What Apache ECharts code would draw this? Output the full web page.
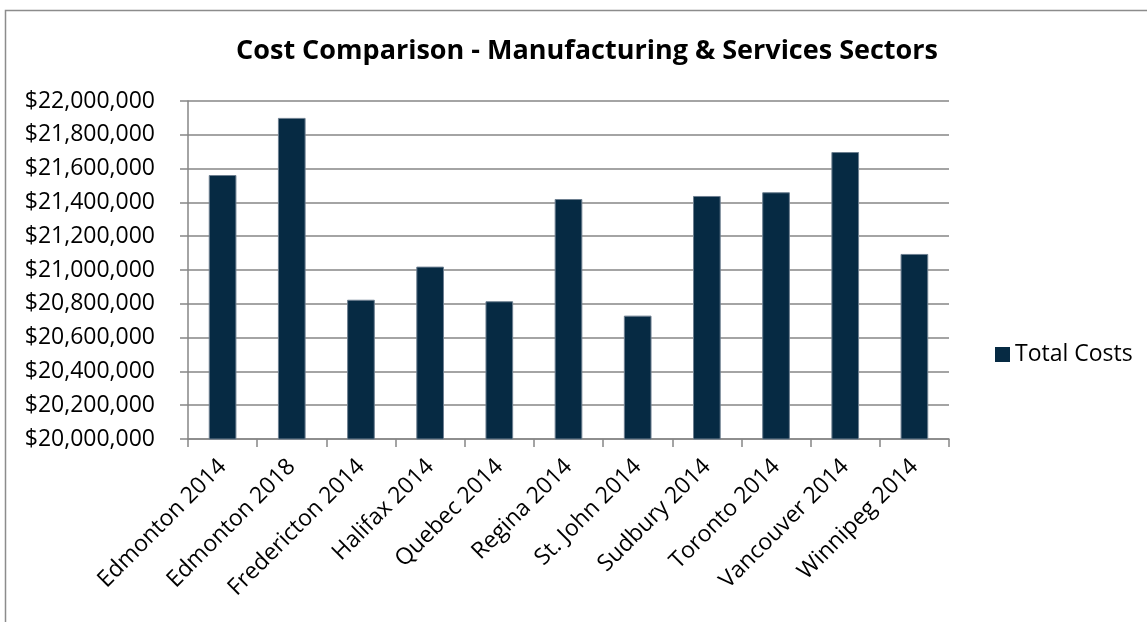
<!DOCTYPE html>
<html>
<head>
<meta charset="utf-8">
<script src="https://cdn.jsdelivr.net/npm/echarts@6/dist/echarts.min.js"></script>
<style>
html,body{margin:0;padding:0;background:#fff;}
#chart{width:1147px;height:622px;}
</style>
</head>
<body>
<div id="chart"></div>
<script>
const categories = ["Edmonton 2014","Edmonton 2018","Fredericton 2014","Halifax 2014","Quebec 2014","Regina 2014","St. John 2014","Sudbury 2014","Toronto 2014","Vancouver 2014","Winnipeg 2014"];
const totalCosts = [21562000, 21900000, 20824000, 21020000, 20815000, 21420000, 20730000, 21438000, 21460000, 21698000, 21095000];
const seriesName = "Total Costs";
const titleText = "Cost Comparison - Manufacturing & Services Sectors";

const FONT = "'Open Sans', sans-serif";
const chart = echarts.init(document.getElementById('chart'));
chart.setOption({
  animation: false,
  backgroundColor: '#fff',
  graphic: [{
    type: 'rect', left: 3, top: 8,
    shape: {width: 1160, height: 640},
    style: {fill: 'none', stroke: '#8c8c8c', lineWidth: 1.5}
  }],
  title: {
    text: titleText, left: 582, top: 33, textAlign: 'center',
    textStyle: {fontFamily: FONT, fontWeight: 'bold', fontSize: 27, color: '#000'}
  },
  legend: {
    data: [seriesName], left: 990, top: 338, icon: 'rect',
    itemWidth: 15, itemHeight: 15, itemGap: 5,
    itemStyle: {borderWidth: 0},
    textStyle: {fontFamily: FONT, fontSize: 23, color: '#000', padding: [0,0,0,0]}
  },
  grid: {left: 188, right: 198, top: 101, bottom: 183},
  xAxis: {
    type: 'category', data: categories,
    axisLine: {lineStyle: {color: '#868686', width: 1.5}},
    axisTick: {show: true, length: 8, lineStyle: {color: '#868686', width: 1.5}},
    axisLabel: {rotate: 45, fontFamily: FONT, fontSize: 23, color: '#000', margin: 24, interval: 0}
  },
  yAxis: {
    type: 'value', min: 20000000, max: 22000000, interval: 200000,
    axisLine: {show: true, lineStyle: {color: '#868686', width: 1.5}},
    axisTick: {show: true, length: 8, lineStyle: {color: '#868686', width: 1.5}},
    splitLine: {lineStyle: {color: '#868686', width: 1.5}},
    axisLabel: {
      fontFamily: FONT, fontSize: 23, color: '#000', margin: 33,
      formatter: v => '$' + v.toLocaleString('en-US')
    }
  },
  series: [{
    name: seriesName, type: 'bar', data: totalCosts,
    barCategoryGap: '60%',
    itemStyle: {color: '#062a43', borderColor: '#6d7f90', borderWidth: 1}
  }]
});
</script>
</body>
</html>
